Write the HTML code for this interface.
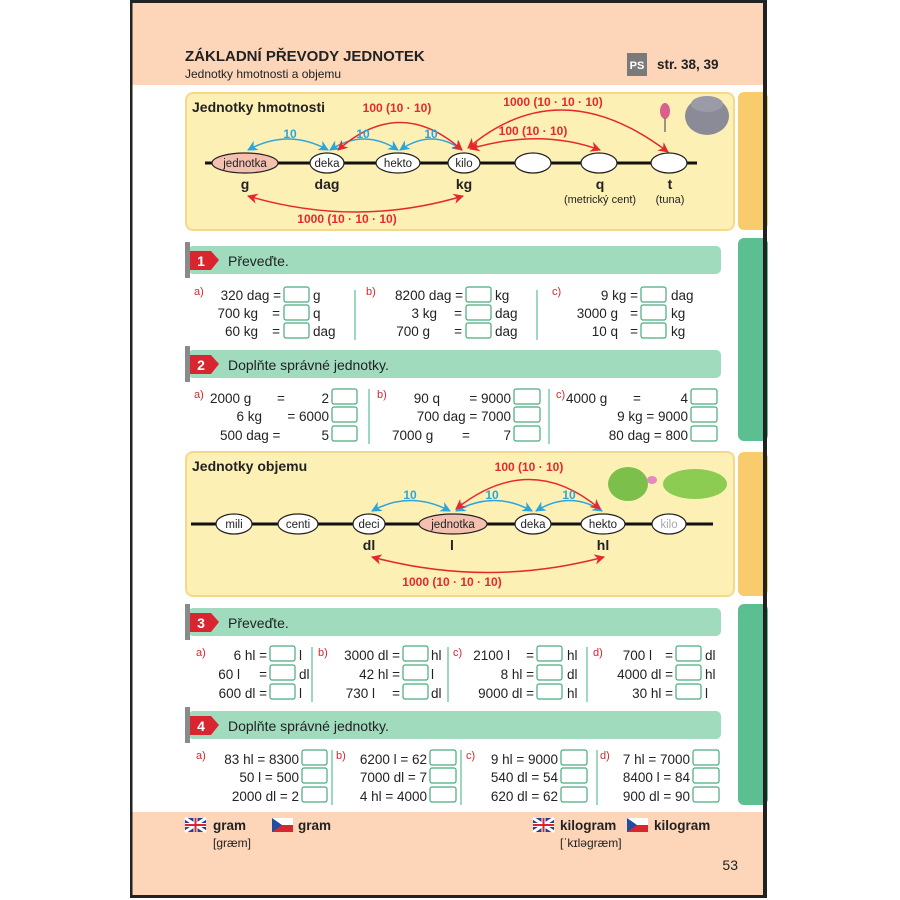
<!DOCTYPE html>
<html><head><meta charset="utf-8"><style>
html,body{margin:0;padding:0;background:#fff}
svg{display:block}
text{font-family:"Liberation Sans",Arial,sans-serif;font-size:13.5px;fill:#222}
.b{font-weight:bold}
.r{fill:#d9252f;font-size:11px}
.red{fill:#e5282e;font-size:12px;font-weight:bold}
.blu{fill:#2aa6dc;font-size:12px;font-weight:bold}
.e{text-anchor:end}
.m{text-anchor:middle}
.s{font-size:11.5px}
</style></head><body>
<svg width="900" height="900" viewBox="0 0 900 900" xmlns="http://www.w3.org/2000/svg">
<defs>
<marker id="ar" viewBox="0 0 10 10" refX="9" refY="5" markerWidth="7" markerHeight="7" orient="auto-start-reverse"><path d="M0,0 L10,5 L0,10 L3,5z" fill="#e5282e"/></marker>
<marker id="ab" viewBox="0 0 10 10" refX="9" refY="5" markerWidth="7" markerHeight="7" orient="auto-start-reverse"><path d="M0,0 L10,5 L0,10 L3,5z" fill="#2aa6dc"/></marker>
</defs>
<rect x="130" y="0" width="637" height="898" fill="#fff"/>
<rect x="132" y="2" width="631" height="83" fill="#fdd5b8"/>
<rect x="132" y="812" width="631" height="83" fill="#fdd5b8"/>
<rect x="130" y="0" width="637" height="3" fill="#222"/>
<rect x="130" y="0" width="2.5" height="898" fill="#222"/>
<rect x="130" y="895" width="637" height="3" fill="#222"/>
<rect x="738" y="92" width="30" height="138" rx="6" fill="#f8cc6c"/>
<rect x="738" y="238" width="30" height="203" rx="6" fill="#5bbf92"/>
<rect x="738" y="452" width="30" height="144" rx="6" fill="#f8cc6c"/>
<rect x="738" y="604" width="30" height="201" rx="6" fill="#5bbf92"/>
<rect x="763" y="0" width="4" height="898" fill="#222"/>
<text x="185" y="61" class="b" style="font-size:15px">ZÁKLADNÍ PŘEVODY JEDNOTEK</text>
<text x="185" y="78" style="font-size:12px">Jednotky hmotnosti a objemu</text>
<rect x="627" y="53" width="20" height="23" fill="#7a7a7a"/>
<text x="637" y="69" class="m b" style="font-size:11px;fill:#fff">PS</text>
<text x="657" y="69" class="b">str. 38, 39</text>

<rect x="186" y="93" width="548" height="137" rx="7" fill="#fdf0b5" stroke="#f5d98b" stroke-width="2"/>
<text x="192" y="112" class="b" style="font-size:14px">Jednotky hmotnosti</text>
<line x1="205" y1="163" x2="697" y2="163" stroke="#111" stroke-width="3"/>
<g stroke="#222" stroke-width="1.2" fill="#fff">
<ellipse cx="245" cy="163" rx="33" ry="10" fill="#f4c0b0"/>
<ellipse cx="327" cy="163" rx="17" ry="10"/>
<ellipse cx="398" cy="163" rx="22" ry="10"/>
<ellipse cx="464" cy="163" rx="16" ry="10"/>
<ellipse cx="533" cy="163" rx="18" ry="10"/>
<ellipse cx="599" cy="163" rx="18" ry="10"/>
<ellipse cx="669" cy="163" rx="18" ry="10"/>
</g>
<text x="245" y="167" class="m s">jednotka</text>
<text x="327" y="167" class="m s">deka</text>
<text x="398" y="167" class="m s">hekto</text>
<text x="464" y="167" class="m s">kilo</text>
<text x="245" y="189" class="m b" style="font-size:14px">g</text>
<text x="327" y="189" class="m b" style="font-size:14px">dag</text>
<text x="464" y="189" class="m b" style="font-size:14px">kg</text>
<text x="600" y="189" class="m b" style="font-size:14px">q</text>
<text x="670" y="189" class="m b" style="font-size:14px">t</text>
<text x="600" y="203" class="m" style="font-size:11px">(metrický cent)</text>
<text x="670" y="203" class="m" style="font-size:11px">(tuna)</text>
<g fill="none" stroke-width="1.5">
<path d="M248,150 Q288,128 328,150" stroke="#2aa6dc" marker-start="url(#ab)" marker-end="url(#ab)"/>
<path d="M330,150 Q364,128 398,150" stroke="#2aa6dc" marker-start="url(#ab)" marker-end="url(#ab)"/>
<path d="M400,150 Q432,128 462,150" stroke="#2aa6dc" marker-start="url(#ab)" marker-end="url(#ab)"/>
<path d="M338,150 Q400,95 462,150" stroke="#e5282e" marker-start="url(#ar)" marker-end="url(#ar)"/>
<path d="M468,148 Q560,70 668,152" stroke="#e5282e" marker-start="url(#ar)" marker-end="url(#ar)"/>
<path d="M470,149 Q540,128 600,150" stroke="#e5282e" marker-start="url(#ar)" marker-end="url(#ar)"/>
<path d="M248,196 Q356,228 463,196" stroke="#e5282e" marker-start="url(#ar)" marker-end="url(#ar)"/>
</g>
<text x="290" y="138" class="m blu">10</text>
<text x="363" y="138" class="m blu">10</text>
<text x="431" y="138" class="m blu">10</text>
<text x="397" y="112" class="m red">100 (10 · 10)</text>
<text x="553" y="106" class="m red">1000 (10 · 10 · 10)</text>
<text x="533" y="135" class="m red">100 (10 · 10)</text>
<text x="347" y="223" class="m red">1000 (10 · 10 · 10)</text>
<ellipse cx="707" cy="116" rx="22" ry="19" fill="#8a8b96"/>
<ellipse cx="707" cy="104" rx="16" ry="8" fill="#9a9ba6"/>
<ellipse cx="665" cy="111" rx="5" ry="8" fill="#d9608c"/>
<line x1="665" y1="118" x2="665" y2="132" stroke="#777" stroke-width="1.5"/>

<rect x="188" y="246" width="533" height="28" rx="5" fill="#a0dbbe"/>
<rect x="188" y="350" width="533" height="28" rx="5" fill="#a0dbbe"/>
<rect x="188" y="608" width="533" height="28" rx="5" fill="#a0dbbe"/>
<rect x="188" y="711" width="533" height="28" rx="5" fill="#a0dbbe"/>
<g fill="#d9252f">
<path d="M189,251 H211 L219,260 L211,270 H189z"/>
<path d="M189,355 H211 L219,364 L211,374 H189z"/>
<path d="M189,613 H211 L219,622 L211,632 H189z"/>
<path d="M189,716 H211 L219,725 L211,735 H189z"/>
</g>
<g fill="#8a8a8a">
<rect x="185" y="242" width="5" height="36"/>
<rect x="185" y="346" width="5" height="36"/>
<rect x="185" y="604" width="5" height="36"/>
<rect x="185" y="707" width="5" height="36"/>
</g>
<text x="201" y="266" class="m b" style="fill:#fff;font-size:14px">1</text>
<text x="201" y="370" class="m b" style="fill:#fff;font-size:14px">2</text>
<text x="201" y="628" class="m b" style="fill:#fff;font-size:14px">3</text>
<text x="201" y="731" class="m b" style="fill:#fff;font-size:14px">4</text>
<text x="228" y="266" style="font-size:14px">Převeďte.</text>
<text x="228" y="370" style="font-size:14px">Doplňte správné jednotky.</text>
<text x="228" y="628" style="font-size:14px">Převeďte.</text>
<text x="228" y="731" style="font-size:14px">Doplňte správné jednotky.</text>

<g stroke="#5bbf92" stroke-width="1.2">
<line x1="355" y1="290" x2="355" y2="340"/><line x1="537" y1="290" x2="537" y2="340"/>
<line x1="369" y1="389" x2="369" y2="444"/><line x1="549" y1="389" x2="549" y2="444"/>
<line x1="312" y1="647" x2="312" y2="702"/><line x1="448" y1="647" x2="448" y2="702"/><line x1="587" y1="647" x2="587" y2="702"/>
<line x1="332" y1="750" x2="332" y2="805"/><line x1="461" y1="750" x2="461" y2="805"/><line x1="597" y1="750" x2="597" y2="805"/>
</g>
<g fill="#fff" stroke="#4aaa7c" stroke-width="1.2">
<rect x="284" y="287" width="25" height="15" rx="2"/><rect x="284" y="305" width="25" height="15" rx="2"/><rect x="284" y="323" width="25" height="15" rx="2"/>
<rect x="466" y="287" width="25" height="15" rx="2"/><rect x="466" y="305" width="25" height="15" rx="2"/><rect x="466" y="323" width="25" height="15" rx="2"/>
<rect x="641" y="287" width="25" height="15" rx="2"/><rect x="641" y="305" width="25" height="15" rx="2"/><rect x="641" y="323" width="25" height="15" rx="2"/>
<rect x="332" y="389" width="25" height="15" rx="2"/><rect x="332" y="407" width="25" height="15" rx="2"/><rect x="332" y="426" width="25" height="15" rx="2"/>
<rect x="514" y="389" width="26" height="15" rx="2"/><rect x="514" y="407" width="26" height="15" rx="2"/><rect x="514" y="426" width="26" height="15" rx="2"/>
<rect x="691" y="389" width="26" height="15" rx="2"/><rect x="691" y="407" width="26" height="15" rx="2"/><rect x="691" y="426" width="26" height="15" rx="2"/>
<rect x="270" y="646" width="25" height="15" rx="2"/><rect x="270" y="665" width="25" height="15" rx="2"/><rect x="270" y="684" width="25" height="15" rx="2"/>
<rect x="403" y="646" width="25" height="15" rx="2"/><rect x="403" y="665" width="25" height="15" rx="2"/><rect x="403" y="684" width="25" height="15" rx="2"/>
<rect x="537" y="646" width="25" height="15" rx="2"/><rect x="537" y="665" width="25" height="15" rx="2"/><rect x="537" y="684" width="25" height="15" rx="2"/>
<rect x="676" y="646" width="25" height="15" rx="2"/><rect x="676" y="665" width="25" height="15" rx="2"/><rect x="676" y="684" width="25" height="15" rx="2"/>
<rect x="302" y="750" width="25" height="15" rx="2"/><rect x="302" y="768" width="25" height="15" rx="2"/><rect x="302" y="787" width="25" height="15" rx="2"/>
<rect x="430" y="750" width="26" height="15" rx="2"/><rect x="430" y="768" width="26" height="15" rx="2"/><rect x="430" y="787" width="26" height="15" rx="2"/>
<rect x="561" y="750" width="26" height="15" rx="2"/><rect x="561" y="768" width="26" height="15" rx="2"/><rect x="561" y="787" width="26" height="15" rx="2"/>
<rect x="693" y="750" width="26" height="15" rx="2"/><rect x="693" y="768" width="26" height="15" rx="2"/><rect x="693" y="787" width="26" height="15" rx="2"/>
</g>

<text x="194" y="295" class="r">a)</text><text x="366" y="295" class="r">b)</text><text x="552" y="295" class="r">c)</text>
<text x="281" y="300" class="e">320 dag =</text><text x="313" y="300">g</text>
<text x="258" y="318" class="e">700 kg</text><text x="280" y="318" class="e">=</text><text x="313" y="318">q</text>
<text x="258" y="336" class="e">60 kg</text><text x="280" y="336" class="e">=</text><text x="313" y="336">dag</text>
<text x="463" y="300" class="e">8200 dag =</text><text x="495" y="300">kg</text>
<text x="437" y="318" class="e">3 kg</text><text x="462" y="318" class="e">=</text><text x="495" y="318">dag</text>
<text x="430" y="336" class="e">700 g</text><text x="462" y="336" class="e">=</text><text x="495" y="336">dag</text>
<text x="638" y="300" class="e">9 kg =</text><text x="671" y="300">dag</text>
<text x="618" y="318" class="e">3000 g</text><text x="638" y="318" class="e">=</text><text x="671" y="318">kg</text>
<text x="618" y="336" class="e">10 q</text><text x="638" y="336" class="e">=</text><text x="671" y="336">kg</text>
<text x="194" y="398" class="r">a)</text><text x="377" y="398" class="r">b)</text><text x="556" y="398" class="r">c)</text>
<text x="210" y="403">2000 g</text><text x="281" y="403" class="m">=</text><text x="329" y="403" class="e">2</text>
<text x="262" y="421" class="e">6 kg</text><text x="329" y="421" class="e">= 6000</text>
<text x="220" y="440">500 dag =</text><text x="329" y="440" class="e">5</text>
<text x="440" y="403" class="e">90 q</text><text x="511" y="403" class="e">= 9000</text>
<text x="511" y="421" class="e">700 dag = 7000</text>
<text x="392" y="440">7000 g</text><text x="466" y="440" class="m">=</text><text x="511" y="440" class="e">7</text>
<text x="566" y="403">4000 g</text><text x="637" y="403" class="m">=</text><text x="688" y="403" class="e">4</text>
<text x="688" y="421" class="e">9 kg = 9000</text>
<text x="688" y="440" class="e">80 dag =  800</text>

<rect x="186" y="452" width="548" height="144" rx="7" fill="#fdf0b5" stroke="#f5d98b" stroke-width="2"/>
<text x="192" y="471" class="b" style="font-size:14px">Jednotky objemu</text>
<line x1="191" y1="524" x2="713" y2="524" stroke="#111" stroke-width="3"/>
<g stroke="#222" stroke-width="1.2" fill="#fff">
<ellipse cx="234" cy="524" rx="18" ry="10"/>
<ellipse cx="298" cy="524" rx="20" ry="10"/>
<ellipse cx="369" cy="524" rx="16" ry="10"/>
<ellipse cx="453" cy="524" rx="34" ry="10" fill="#f4c0b0"/>
<ellipse cx="533" cy="524" rx="18" ry="10"/>
<ellipse cx="603" cy="524" rx="22" ry="10"/>
<ellipse cx="669" cy="524" rx="17" ry="10"/>
</g>
<text x="234" y="528" class="m s">mili</text>
<text x="298" y="528" class="m s">centi</text>
<text x="369" y="528" class="m s">deci</text>
<text x="453" y="528" class="m s">jednotka</text>
<text x="533" y="528" class="m s">deka</text>
<text x="603" y="528" class="m s">hekto</text>
<text x="669" y="528" class="m s" style="fill:#aaa">kilo</text>
<text x="369" y="550" class="m b" style="font-size:14px">dl</text>
<text x="452" y="550" class="m b" style="font-size:14px">l</text>
<text x="603" y="550" class="m b" style="font-size:14px">hl</text>
<g fill="none" stroke-width="1.5">
<path d="M372,511 Q410,490 450,511" stroke="#2aa6dc" marker-start="url(#ab)" marker-end="url(#ab)"/>
<path d="M456,511 Q494,490 532,511" stroke="#2aa6dc" marker-start="url(#ab)" marker-end="url(#ab)"/>
<path d="M536,511 Q570,490 602,511" stroke="#2aa6dc" marker-start="url(#ab)" marker-end="url(#ab)"/>
<path d="M456,509 Q530,450 600,509" stroke="#e5282e" marker-start="url(#ar)" marker-end="url(#ar)"/>
<path d="M372,557 Q488,588 604,557" stroke="#e5282e" marker-start="url(#ar)" marker-end="url(#ar)"/>
</g>
<text x="410" y="499" class="m blu">10</text>
<text x="492" y="499" class="m blu">10</text>
<text x="569" y="499" class="m blu">10</text>
<text x="529" y="471" class="m red">100 (10 · 10)</text>
<text x="452" y="586" class="m red">1000 (10 · 10 · 10)</text>
<ellipse cx="628" cy="484" rx="20" ry="17" fill="#7cbf4a"/>
<ellipse cx="695" cy="484" rx="32" ry="15" fill="#8ccc52"/>
<ellipse cx="652" cy="480" rx="5" ry="4" fill="#e58abf"/>

<text x="196" y="656" class="r">a)</text><text x="318" y="656" class="r">b)</text><text x="453" y="656" class="r">c)</text><text x="593" y="656" class="r">d)</text>
<text x="267" y="660" class="e">6 hl =</text><text x="299" y="660">l</text>
<text x="240" y="679" class="e">60 l</text><text x="267" y="679" class="e">=</text><text x="299" y="679">dl</text>
<text x="267" y="698" class="e">600 dl =</text><text x="299" y="698">l</text>
<text x="400" y="660" class="e">3000 dl =</text><text x="431" y="660">hl</text>
<text x="400" y="679" class="e">42 hl =</text><text x="431" y="679">l</text>
<text x="375" y="698" class="e">730 l</text><text x="400" y="698" class="e">=</text><text x="431" y="698">dl</text>
<text x="510" y="660" class="e">2100 l</text><text x="534" y="660" class="e">=</text><text x="567" y="660">hl</text>
<text x="534" y="679" class="e">8 hl =</text><text x="567" y="679">dl</text>
<text x="534" y="698" class="e">9000 dl =</text><text x="567" y="698">hl</text>
<text x="652" y="660" class="e">700 l</text><text x="673" y="660" class="e">=</text><text x="705" y="660">dl</text>
<text x="673" y="679" class="e">4000 dl =</text><text x="705" y="679">hl</text>
<text x="673" y="698" class="e">30 hl =</text><text x="705" y="698">l</text>

<text x="196" y="759" class="r">a)</text><text x="336" y="759" class="r">b)</text><text x="466" y="759" class="r">c)</text><text x="600" y="759" class="r">d)</text>
<text x="299" y="764" class="e">83 hl = 8300</text><text x="299" y="782" class="e">50 l = 500</text><text x="299" y="801" class="e">2000 dl = 2</text>
<text x="427" y="764" class="e">6200 l = 62</text><text x="427" y="782" class="e">7000 dl = 7</text><text x="427" y="801" class="e">4 hl = 4000</text>
<text x="558" y="764" class="e">9 hl = 9000</text><text x="558" y="782" class="e">540 dl = 54</text><text x="558" y="801" class="e">620 dl = 62</text>
<text x="690" y="764" class="e">7 hl = 7000</text><text x="690" y="782" class="e">8400 l = 84</text><text x="690" y="801" class="e">900 dl = 90</text>

<rect x="185" y="818" width="21" height="14" fill="#2a3f8f"/>
<path d="M185,818 L206,832 M206,818 L185,832" stroke="#fff" stroke-width="3"/>
<path d="M195.5,818 V832 M185,825 H206" stroke="#fff" stroke-width="4"/>
<path d="M195.5,818 V832 M185,825 H206" stroke="#d9252f" stroke-width="2"/>
<rect x="533" y="818" width="21" height="14" fill="#2a3f8f"/>
<path d="M533,818 L554,832 M554,818 L533,832" stroke="#fff" stroke-width="3"/>
<path d="M543.5,818 V832 M533,825 H554" stroke="#fff" stroke-width="4"/>
<path d="M543.5,818 V832 M533,825 H554" stroke="#d9252f" stroke-width="2"/>
<rect x="272" y="818" width="21" height="7" fill="#fff"/><rect x="272" y="825" width="21" height="7" fill="#d9252f"/><path d="M272,818 L282,825 L272,832z" fill="#1f4ea0"/>
<rect x="627" y="818" width="21" height="7" fill="#fff"/><rect x="627" y="825" width="21" height="7" fill="#d9252f"/><path d="M627,818 L637,825 L627,832z" fill="#1f4ea0"/>
<text x="213" y="830" class="b">gram</text>
<text x="213" y="847" style="font-size:12px">[græm]</text>
<text x="298" y="830" class="b">gram</text>
<text x="560" y="830" class="b">kilogram</text>
<text x="560" y="847" style="font-size:12px">[ˈkɪləgræm]</text>
<text x="654" y="830" class="b">kilogram</text>
<text x="738" y="870" class="e" style="font-size:14px">53</text>
</svg>
</body></html>
